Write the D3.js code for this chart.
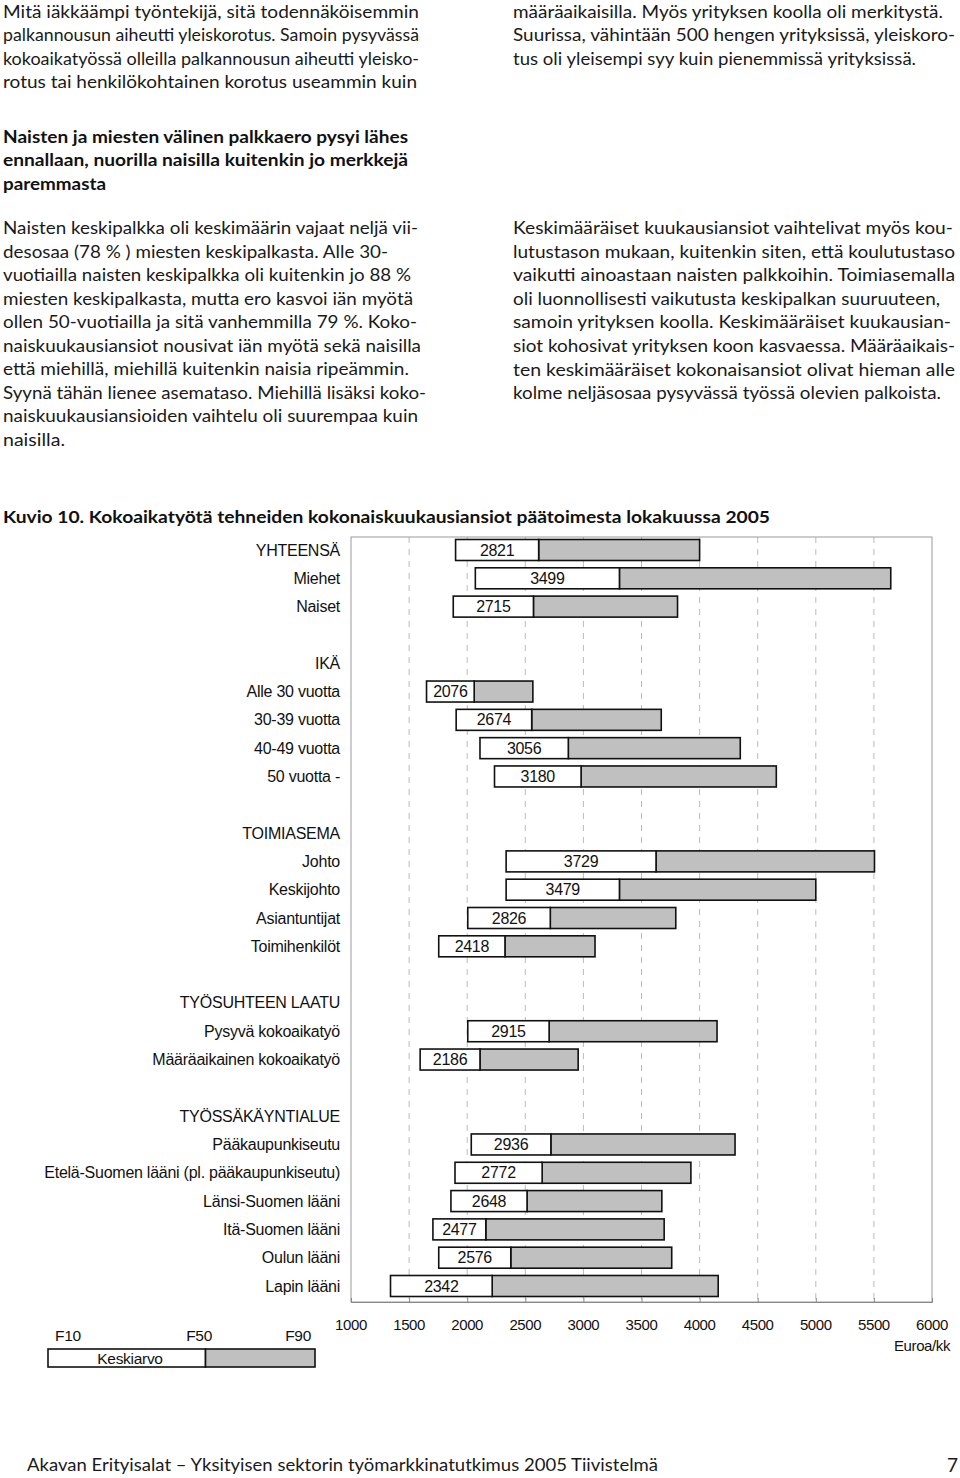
<!DOCTYPE html>
<html>
<head>
<meta charset="utf-8">
<script src="https://cdn.jsdelivr.net/npm/d3@7"></script>
<style>
  body { margin: 0; background: #fff; }
  svg { display: block; }
  .body-text { font-family: Lato, "Open Sans", sans-serif; font-size: 16.5px; fill: #1a1a1a; }
  .head-text { font-family: Lato, "Open Sans", sans-serif; font-size: 16.5px; font-weight: bold; fill: #111; }
  .chart-text { font-family: "Liberation Sans", Arial, sans-serif; font-size: 15px; fill: #111; }
</style>
</head>
<body>
<svg id="page" width="960" height="1478"></svg>
<script>
// rows of the chart (blank strings are spacer rows)
var rowLabels = ["YHTEENSÄ","Miehet","Naiset","",
  "IKÄ","Alle 30 vuotta","30-39 vuotta","40-49 vuotta","50 vuotta -","",
  "TOIMIASEMA","Johto","Keskijohto","Asiantuntijat","Toimihenkilöt","",
  "TYÖSUHTEEN LAATU","Pysyvä kokoaikatyö","Määräaikainen kokoaikatyö","",
  "TYÖSSÄKÄYNTIALUE","Pääkaupunkiseutu","Etelä-Suomen lääni (pl. pääkaupunkiseutu)",
  "Länsi-Suomen lääni","Itä-Suomen lääni","Oulun lääni","Lapin lääni"];

var categories = ["YHTEENSÄ","Miehet","Naiset","Alle 30 vuotta","30-39 vuotta","40-49 vuotta","50 vuotta -",
  "Johto","Keskijohto","Asiantuntijat","Toimihenkilöt","Pysyvä kokoaikatyö","Määräaikainen kokoaikatyö",
  "Pääkaupunkiseutu","Etelä-Suomen lääni (pl. pääkaupunkiseutu)","Länsi-Suomen lääni","Itä-Suomen lääni",
  "Oulun lääni","Lapin lääni"];
var f10  = [1900,2070,1880,1650,1905,2110,2235,2335,2335,2005,1755,2005,1595,2035,1895,1860,1705,1755,1340];
var f50  = [2615,3310,2570,2060,2555,2870,2980,3625,3310,2715,2325,2705,2110,2720,2645,2515,2160,2375,2215];
var f90  = [4000,5645,3810,2565,3670,4350,4660,5505,5000,3795,3100,4150,2955,4305,3925,3675,3695,3760,4160];
var mean = [2821,3499,2715,2076,2674,3056,3180,3729,3479,2826,2418,2915,2186,2936,2772,2648,2477,2576,2342];

var ticks = [1000,1500,2000,2500,3000,3500,4000,4500,5000,5500,6000];

var svg = d3.select("#page");
svg.append("rect").attr("width", 960).attr("height", 1478).attr("fill", "#fff");

// ---- page text ----
function lines(arr, x, y0, lh, cls) {
  arr.forEach(function(l, i) {
    var t = svg.append("text").attr("class", cls)
      .attr("x", x).attr("y", y0 + i * lh).text(l[0]);
    if (l[1]) t.attr("textLength", l[1]).attr("lengthAdjust", "spacingAndGlyphs");
  });
}
lines([
  ["Mitä iäkkäämpi työntekijä, sitä todennäköisemmin", 416],
  ["palkannousun aiheutti yleiskorotus. Samoin pysyvässä", 416],
  ["kokoaikatyössä olleilla palkannousun aiheutti yleisko-", 416],
  ["rotus tai henkilökohtainen korotus useammin kuin", 414]
], 3, 18, 23.3, "body-text");
lines([
  ["määräaikaisilla. Myös yrityksen koolla oli merkitystä.", 430],
  ["Suurissa, vähintään 500 hengen yrityksissä, yleiskoro-", 442],
  ["tus oli yleisempi syy kuin pienemmissä yrityksissä.", 403]
], 513, 18, 23.3, "body-text");
lines([
  ["Naisten ja miesten välinen palkkaero pysyi lähes", 405],
  ["ennallaan, nuorilla naisilla kuitenkin jo merkkejä", 405],
  ["paremmasta", 103]
], 3, 143, 23.3, "head-text");
lines([
  ["Naisten keskipalkka oli keskimäärin vajaat neljä vii-", 415],
  ["desosaa (78 % ) miesten keskipalkasta. Alle 30-", 385],
  ["vuotiailla naisten keskipalkka oli kuitenkin jo 88 %", 408],
  ["miesten keskipalkasta, mutta ero kasvoi iän myötä", 410],
  ["ollen 50-vuotiailla ja sitä vanhemmilla 79 %. Koko-", 414],
  ["naiskuukausiansiot nousivat iän myötä sekä naisilla", 418],
  ["että miehillä, miehillä kuitenkin naisia ripeämmin.", 406],
  ["Syynä tähän lienee asemataso. Miehillä lisäksi koko-", 423],
  ["naiskuukausiansioiden vaihtelu oli suurempaa kuin", 415],
  ["naisilla.", 62]
], 3, 234, 23.5, "body-text");
lines([
  ["Keskimääräiset kuukausiansiot vaihtelivat myös kou-", 440],
  ["lutustason mukaan, kuitenkin siten, että koulutustaso", 442],
  ["vaikutti ainoastaan naisten palkkoihin. Toimiasemalla", 442],
  ["oli luonnollisesti vaikutusta keskipalkan suuruuteen,", 427],
  ["samoin yrityksen koolla. Keskimääräiset kuukausian-", 438],
  ["siot kohosivat yrityksen koon kasvaessa. Määräaikais-", 442],
  ["ten keskimääräiset kokonaisansiot olivat hieman alle", 442],
  ["kolme neljäsosaa pysyvässä työssä olevien palkoista.", 428]
], 513, 234, 23.6, "body-text");

svg.append("text").attr("class", "head-text").style("font-size", "17.5px")
  .attr("x", 3).attr("y", 523).attr("textLength", 767).attr("lengthAdjust", "spacingAndGlyphs")
  .text("Kuvio 10. Kokoaikatyötä tehneiden kokonaiskuukausiansiot päätoimesta lokakuussa 2005");

svg.append("text").attr("class", "body-text").style("font-size", "17px")
  .attr("x", 27).attr("y", 1471).attr("textLength", 631).attr("lengthAdjust", "spacingAndGlyphs")
  .text("Akavan Erityisalat – Yksityisen sektorin työmarkkinatutkimus 2005 Tiivistelmä");
svg.append("text").attr("class", "body-text").style("font-size", "19px")
  .attr("x", 958).attr("y", 1472).attr("text-anchor", "end").text("7");

// ---- chart ----
var plotLeft = 351, plotRight = 932, plotTop = 537, plotBottom = 1302;

var x = d3.scaleLinear().domain([1000, 6000]).range([plotLeft, plotRight]);
var y = d3.scalePoint().domain(d3.range(rowLabels.length)).range([550, 1286]);
var barH = 21;

var chart = svg.append("g").attr("class", "chart-text");

// gridlines
chart.selectAll("line.grid").data(ticks.slice(1, -1)).enter().append("line")
  .attr("x1", function(d) { return x(d); }).attr("x2", function(d) { return x(d); })
  .attr("y1", plotTop).attr("y2", plotBottom)
  .attr("stroke", "#aaa").attr("stroke-width", 0.8).attr("stroke-dasharray", "6,6");

// frame
chart.append("rect").attr("x", plotLeft).attr("y", plotTop)
  .attr("width", plotRight - plotLeft).attr("height", plotBottom - plotTop)
  .attr("fill", "none").attr("stroke", "#999").attr("stroke-width", 1);

// axis
var xAxis = d3.axisTop(x).tickValues(ticks).tickSize(4).tickFormat("");
chart.append("g").attr("transform", "translate(0," + plotBottom + ")").call(xAxis)
  .call(function(g) { g.selectAll("line,path").attr("stroke", "#888"); });
chart.selectAll("text.tick-label").data(ticks).enter().append("text")
  .attr("x", function(d) { return x(d); }).attr("y", 1330)
  .attr("text-anchor", "middle").style("font-size", "15px").style("letter-spacing", "-0.4px")
  .text(function(d) { return d; });
chart.append("text").attr("x", 950).attr("y", 1351).attr("text-anchor", "end")
  .style("font-size", "15px").style("letter-spacing", "-0.4px").text("Euroa/kk");

// row labels
chart.selectAll("text.row").data(rowLabels).enter().append("text")
  .attr("x", 340).attr("y", function(d, i) { return y(i) + 5.5; })
  .attr("text-anchor", "end").style("font-size", "16px").style("letter-spacing", "-0.25px")
  .text(function(d) { return d; });

// bars
var rows = categories.map(function(c, i) { return { row: rowLabels.indexOf(c), i: i }; });
var bars = chart.selectAll("g.bar").data(rows).enter().append("g");
bars.append("rect")
  .attr("x", function(d) { return x(f50[d.i]); })
  .attr("y", function(d) { return y(d.row) - barH / 2; })
  .attr("width", function(d) { return x(f90[d.i]) - x(f50[d.i]); })
  .attr("height", barH).attr("fill", "#c0c0c0").attr("stroke", "#111").attr("stroke-width", 1.6);
bars.append("rect")
  .attr("x", function(d) { return x(f10[d.i]); })
  .attr("y", function(d) { return y(d.row) - barH / 2; })
  .attr("width", function(d) { return x(f50[d.i]) - x(f10[d.i]); })
  .attr("height", barH).attr("fill", "#fff").attr("stroke", "#111").attr("stroke-width", 1.6);
bars.append("text")
  .attr("x", function(d) { return (x(f10[d.i]) + x(f50[d.i])) / 2; })
  .attr("y", function(d) { return y(d.row) + 5.5; })
  .attr("text-anchor", "middle").style("font-size", "16px").style("letter-spacing", "-0.3px")
  .text(function(d) { return mean[d.i]; });

// legend
var legX = d3.scaleLinear().domain([0, 100]).range([48, 315]);
var legend = svg.append("g").attr("class", "chart-text");
legend.append("rect").attr("x", legX(0)).attr("y", 1349).attr("width", legX(59) - legX(0)).attr("height", 18)
  .attr("fill", "#fff").attr("stroke", "#111").attr("stroke-width", 1.6);
legend.append("rect").attr("x", legX(59)).attr("y", 1349).attr("width", legX(100) - legX(59)).attr("height", 18)
  .attr("fill", "#c0c0c0").attr("stroke", "#111").attr("stroke-width", 1.6);
legend.append("text").attr("x", 55).attr("y", 1341).style("font-size", "15.5px").style("letter-spacing", "-0.3px").text("F10");
legend.append("text").attr("x", 212).attr("y", 1341).attr("text-anchor", "end").style("font-size", "15.5px").style("letter-spacing", "-0.3px").text("F50");
legend.append("text").attr("x", 311).attr("y", 1341).attr("text-anchor", "end").style("font-size", "15.5px").style("letter-spacing", "-0.3px").text("F90");
legend.append("text").attr("x", 130).attr("y", 1364).attr("text-anchor", "middle").style("font-size", "15.5px").style("letter-spacing", "-0.3px").text("Keskiarvo");
</script>
</body>
</html>
